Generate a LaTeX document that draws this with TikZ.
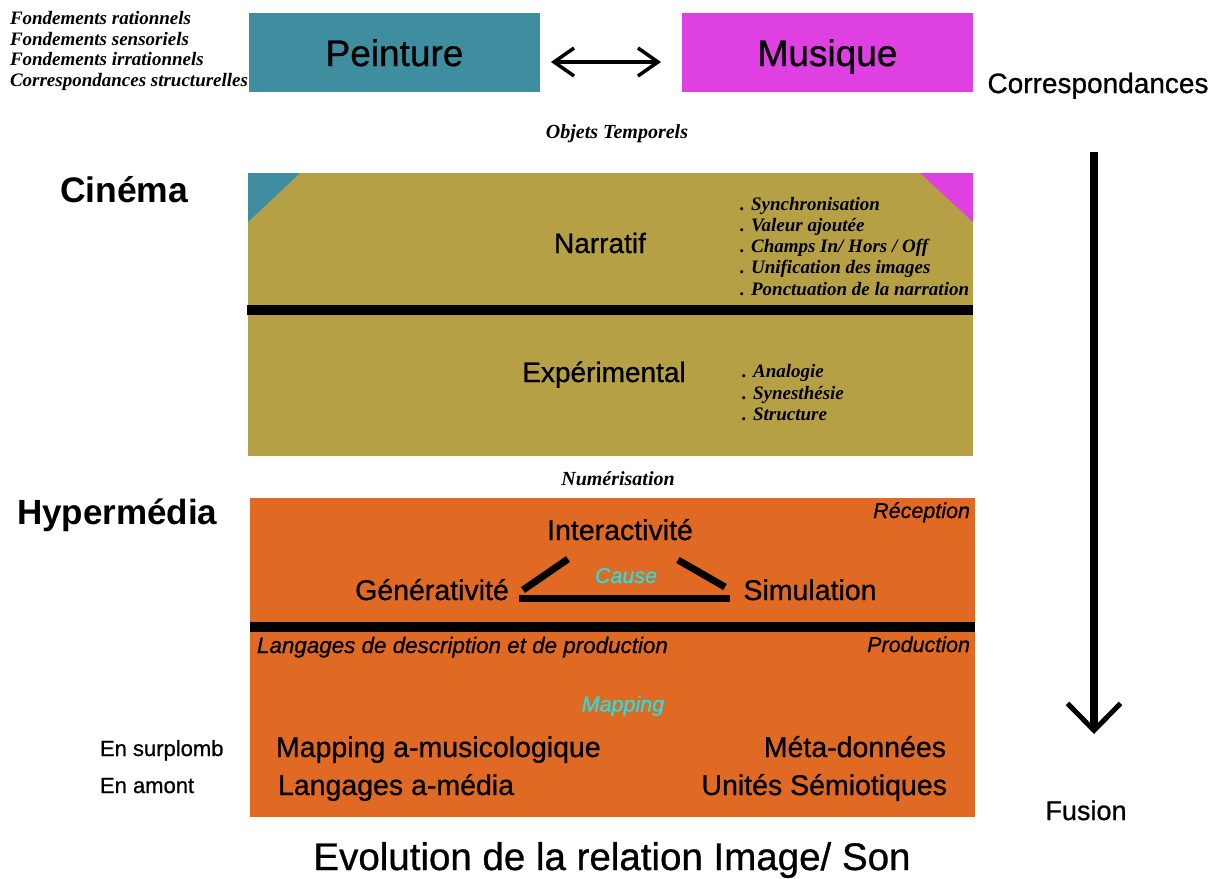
\documentclass[tikz,border=0pt]{standalone}
\usepackage{fontspec}
\setmainfont{Liberation Serif}
\setsansfont{Liberation Sans}
\newfontfamily\sansmed[FakeBold=0.8]{Liberation Sans}
\usetikzlibrary{arrows.meta}
\definecolor{cteal}{RGB}{63,142,160}
\definecolor{cmag}{RGB}{222,64,226}
\definecolor{colive}{RGB}{182,160,70}
\definecolor{corange}{RGB}{224,106,36}
\definecolor{ccyan}{RGB}{40,222,222}
\newcommand\fsz[1]{\fontsize{#1}{#1}\selectfont}
\begin{document}
\begin{tikzpicture}[x=1pt,y=-1pt,
  every node/.style={inner sep=0pt,outer sep=0pt},
  sb/.style={font=\sansmed\fsz{#1}},
  sbi/.style={font=\sansmed\itshape\fsz{#1}},
  sbb/.style={font=\sffamily\bfseries\fsz{#1}},
  rbi/.style={font=\rmfamily\bfseries\itshape\fsz{#1}},
  topbox/.style={fill=#1,minimum width=291pt,minimum height=79pt,text height=27pt,text depth=0pt,font=\sansmed\fsz{37}},
  bigbox/.style={fill=#1,minimum width=725pt},
  divider/.style={line width=10pt},
  tri/.style={line width=7pt},
]
\useasboundingbox (0,0) rectangle (1223,878);

% --- top row
\node[rbi=19,anchor=base west] (f1) at (10,24) {Fondements rationnels};
\node[rbi=19,anchor=base west] (f2) at (10,45) {Fondements sensoriels};
\node[rbi=19,anchor=base west] (f3) at (10,65.5) {Fondements irrationnels};
\node[rbi=19,anchor=base west] (f4) at (10,86) {Correspondances structurelles};

\node[topbox=cteal] (peinture) at (394.5,52.5) {Peinture};
\node[topbox=cmag] (musique) at (827.5,52.5) {Musique};
\draw[line width=3.5pt,{Straight Barb[length=20pt,width=28pt,line width=3.5pt 0]}-{Straight Barb[length=20pt,width=28pt,line width=3.5pt 0]}]
  ([xshift=11pt,yshift=-9.5pt]peinture.east) -- ([xshift=-21pt,yshift=-9.5pt]musique.west);

\node[sb=28,anchor=base] (corr) at (1098,93) {Correspondances};
\node[rbi=20,anchor=base] (objets) at (617,138) {Objets Temporels};

% --- Cinema
\node[sbb=35.5,anchor=base west] (cinema) at (60,202) {Cinéma};
\node[bigbox=colive,minimum height=283pt] (cbox) at (610.5,314.5) {};
\fill[cteal] (cbox.north west) -- ++(52,0) -- ++(-52,49) -- cycle;
\fill[cmag] (cbox.north east) -- ++(-53,0) -- ++(53,49) -- cycle;
\draw[divider] ([xshift=-1pt,yshift=4.5pt]cbox.west) -- ([yshift=4.5pt]cbox.east);

\node[sb=28,anchor=base] (narratif) at (600,253) {Narratif};
\node[rbi=19,anchor=base west] (n1) at (740,210) {. Synchronisation};
\node[rbi=19,anchor=base west] (n2) at (740,231.5) {. Valeur ajoutée};
\node[rbi=19,anchor=base west] (n3) at (740,252.5) {. Champs In/ Hors / Off};
\node[rbi=19,anchor=base west] (n4) at (740,273.5) {. Unification des images};
\node[rbi=19,anchor=base west] (n5) at (740,295) {. Ponctuation de la narration};

\node[sb=28,anchor=base] (exp) at (604,382) {Expérimental};
\node[rbi=19,anchor=base west] (e1) at (742,377) {. Analogie};
\node[rbi=19,anchor=base west] (e2) at (742,399) {. Synesthésie};
\node[rbi=19,anchor=base west] (e3) at (742,420) {. Structure};

\node[rbi=20,anchor=base] (num) at (618,485) {Numérisation};

% --- Hypermedia
\node[sbb=35,anchor=base west] (hyper) at (17,524) {Hypermédia};
\node[bigbox=corange,minimum height=319pt] (hbox) at (612.5,657.5) {};
\draw[divider] ([yshift=31pt]hbox.west) -- ([yshift=31pt]hbox.east);

\node[sbi=21.5,anchor=base east] (recep) at (970,518) {Réception};
\node[sb=28.5,anchor=base] (inter) at (620,540) {Interactivité};
\node[sb=28.5,anchor=base] (gener) at (432,600) {Générativité};
\node[sb=28.5,anchor=base] (simul) at (810,600) {Simulation};
\node[sbi=21.5,anchor=base,text=ccyan] (cause) at (626,583) {Cause};
\coordinate (tgl) at (523,590);
\coordinate (tgu) at (568,559);
\coordinate (tsu) at (678,560);
\coordinate (tsl) at (725,587);
\coordinate (tbl) at (519,598);
\coordinate (tbr) at (730,598);
\draw[tri] (tgl) -- (tgu);
\draw[tri] (tsu) -- (tsl);
\draw[tri] (tbl) -- (tbr);

\node[sbi=22.4,anchor=base west] (lang) at (257,653) {Langages de description et de production};
\node[sbi=21.5,anchor=base east] (prod) at (970,652) {Production};
\node[sbi=21.5,anchor=base,text=ccyan] (mapping) at (623,711.5) {Mapping};

\node[sb=22,anchor=base west] (surp) at (100,756) {En surplomb};
\node[sb=22,anchor=base west] (amont) at (100,793) {En amont};
\node[sb=28.5,anchor=base west] (mam) at (276,757) {Mapping a-musicologique};
\node[sb=28.5,anchor=base east] (meta) at (946,757) {Méta-données};
\node[sb=28.5,anchor=base west] (lam) at (278,795) {Langages a-média};
\node[sb=28.5,anchor=base east] (unites) at (947,795) {Unités Sémiotiques};

% --- right arrow
\coordinate (atop) at (1094,152);
\coordinate (abot) at (1094,734);
\draw[line width=7.5pt,-{Straight Barb[length=27pt,width=53pt,line width=5pt 0]}] (atop) -- (abot);
\node[sb=27,anchor=base] (fusion) at (1086,820) {Fusion};

% --- title
\node[sb=38.5,anchor=base] (title) at (612,870) {Evolution de la relation Image/ Son};
\end{tikzpicture}
\end{document}
